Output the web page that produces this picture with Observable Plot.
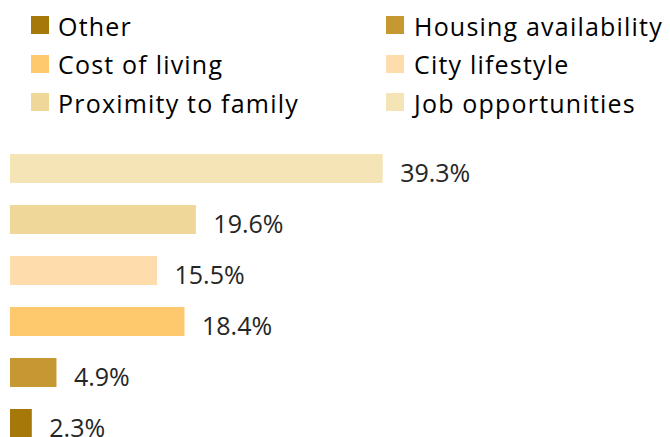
<!DOCTYPE html>
<html>
<head>
<meta charset="utf-8">
<script src="https://cdn.jsdelivr.net/npm/d3@7"></script>
<script src="https://cdn.jsdelivr.net/npm/@observablehq/plot@0.6"></script>
<style>
  html, body { margin: 0; padding: 0; background: #fff; }
  #wrap { position: relative; width: 670px; height: 437px; overflow: hidden; font-family: "Open Sans", sans-serif; }
  #legend { position: relative; width: 670px; height: 130px; }
  .item { position: absolute; font-size: 25px; line-height: 25px; letter-spacing: 1.2px; color: #000; white-space: nowrap; }
  .sw { position: absolute; width: 18px; height: 18px; }
  #chart svg { display: block; }
</style>
</head>
<body>
<div id="wrap">
  <div id="legend"></div>
  <div id="chart"></div>
</div>
<script>
// Data (top to bottom as drawn)
const categories = ["Job opportunities", "Proximity to family", "City lifestyle", "Cost of living", "Housing availability", "Other"];
const values = [39.3, 19.6, 15.5, 18.4, 4.9, 2.3];
// Legend order (row by row, two columns)
const legendOrder = ["Other", "Housing availability", "Cost of living", "City lifestyle", "Proximity to family", "Job opportunities"];
const palette = ["#F4E4B6", "#EFD79A", "#FEDCAB", "#FEC96D", "#C69832", "#A6780A"];

const colorOf = new Map(categories.map((c, i) => [c, palette[i]]));

// Legend
const legend = document.getElementById("legend");
legendOrder.forEach((c, i) => {
  const col = i % 2, row = Math.floor(i / 2);
  const sx = col === 0 ? 31 : 386;
  const tx = col === 0 ? 58 : 414;
  const sy = 16 + row * 38.5;
  const sw = document.createElement("div");
  sw.className = "sw";
  sw.style.left = sx + "px";
  sw.style.top = sy + "px";
  sw.style.background = colorOf.get(c);
  legend.appendChild(sw);
  const t = document.createElement("div");
  t.className = "item";
  t.style.left = tx + "px";
  t.style.top = (sy - 2.5) + "px";
  t.textContent = c;
  legend.appendChild(t);
});

const data = categories.map((c, i) => ({category: c, value: values[i]}));

const chart = Plot.plot({
  width: 670,
  height: 307,
  marginLeft: 10,
  marginRight: 0,
  marginTop: 0,
  marginBottom: 0,
  style: {fontFamily: "Open Sans, sans-serif", overflow: "visible"},
  x: {domain: [0, 69.6], axis: null},
  y: {domain: categories, range: [2, 330], padding: 0.431, axis: null},
  color: {domain: categories, range: palette},
  marks: [
    Plot.barX(data, {x: "value", y: "category", fill: "category"}),
    Plot.text(data, {
      x: "value", y: "category",
      text: d => d.value.toFixed(1) + "%",
      textAnchor: "start", dx: 17, dy: 5,
      fontSize: 25, fill: "#262626"
    })
  ]
});
document.getElementById("chart").appendChild(chart);
</script>
</body>
</html>
